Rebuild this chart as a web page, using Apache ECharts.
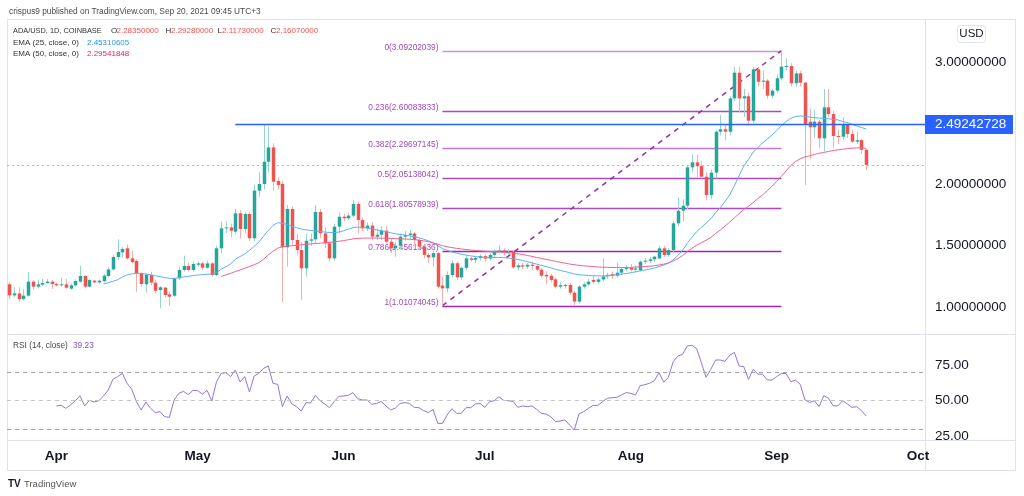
<!DOCTYPE html>
<html><head><meta charset="utf-8">
<script src="https://cdn.jsdelivr.net/npm/echarts@6/dist/echarts.min.js"></script>
<style>html,body{margin:0;padding:0;background:#fff}#c{width:1024px;height:496px}</style>
</head><body><div id="c"></div>
<script>
// ---- categories (daily, Mar 22 2021 .. Oct 2 2021) ----
const startDate = [2021, 2, 22];
const dayCount = 195;
const dates = [];
for (let i = 0; i < dayCount; i++) {
  dates.push(new Date(Date.UTC(startDate[0], startDate[1], startDate[2] + i)).toISOString().slice(0, 10));
}
const monthLabels = {'01':'Jan','02':'Feb','03':'Mar','04':'Apr','05':'May','06':'Jun','07':'Jul','08':'Aug','09':'Sep','10':'Oct','11':'Nov','12':'Dec'};

// ---- OHLC ----
const openVals = [1.185,1.095,1.111,1.065,1.093,1.207,1.166,1.183,1.196,1.207,
1.188,1.177,1.185,1.150,1.177,1.207,1.253,1.166,1.215,1.201,
1.210,1.253,1.307,1.408,1.446,1.479,1.397,1.376,1.275,1.186,
1.261,1.199,1.139,1.158,1.103,1.092,1.234,1.302,1.335,1.302,
1.345,1.356,1.321,1.356,1.261,1.479,1.642,1.650,1.615,1.765,
1.637,1.759,1.561,1.950,2.004,2.186,2.303,2.029,2.004,1.487,
1.800,1.547,1.465,1.316,1.541,1.552,1.776,1.601,1.520,1.397,
1.656,1.737,1.724,1.746,1.841,1.710,1.642,1.665,1.574,1.590,
1.623,1.533,1.479,1.500,1.574,1.588,1.600,1.547,1.493,1.425,
1.405,1.440,1.175,1.152,1.261,1.357,1.242,1.320,1.397,1.385,
1.400,1.415,1.395,1.425,1.452,1.462,1.445,1.452,1.324,1.340,
1.330,1.345,1.335,1.305,1.262,1.255,1.226,1.166,1.172,1.180,
1.117,1.044,1.166,1.185,1.221,1.205,1.225,1.250,1.268,1.255,
1.280,1.310,1.320,1.305,1.300,1.370,1.376,1.389,1.397,1.479,
1.425,1.465,1.683,1.786,1.827,2.140,2.181,2.150,2.064,1.914,
2.097,2.431,2.451,2.431,2.703,2.913,2.703,2.720,2.521,2.940,
2.839,2.848,2.725,2.766,2.867,2.962,2.967,2.826,2.907,2.831,
2.513,2.467,2.513,2.377,2.630,2.575,2.396,2.390,2.491,2.412,
2.350,2.362,2.2835];
const highVals = [1.202,1.161,1.161,1.147,1.283,1.220,1.226,1.231,1.229,1.220,
1.199,1.239,1.229,1.190,1.226,1.337,1.261,1.229,1.220,1.225,
1.267,1.324,1.424,1.552,1.492,1.511,1.460,1.389,1.283,1.275,
1.288,1.220,1.171,1.166,1.125,1.242,1.329,1.419,1.360,1.370,
1.372,1.370,1.380,1.365,1.500,1.700,1.700,1.680,1.800,1.790,
1.780,1.780,2.000,2.100,2.486,2.472,2.336,2.060,2.030,1.833,
1.820,1.600,1.530,1.600,1.600,1.833,1.800,1.650,1.540,1.680,
1.770,1.760,1.770,1.873,1.860,1.730,1.690,1.690,1.640,1.660,
1.660,1.560,1.530,1.600,1.620,1.630,1.610,1.560,1.510,1.440,
1.460,1.450,1.248,1.290,1.380,1.370,1.330,1.420,1.410,1.420,
1.430,1.430,1.440,1.470,1.506,1.480,1.470,1.460,1.360,1.360,
1.360,1.370,1.350,1.320,1.290,1.270,1.240,1.200,1.190,1.200,
1.130,1.180,1.200,1.230,1.260,1.240,1.397,1.280,1.290,1.360,
1.320,1.340,1.350,1.340,1.380,1.400,1.410,1.420,1.500,1.500,
1.480,1.700,1.895,1.880,2.160,2.246,2.240,2.190,2.100,2.120,
2.440,2.570,2.490,2.720,2.960,2.960,2.780,2.750,2.960,2.960,
2.930,2.860,2.780,2.900,3.092,3.030,2.990,2.930,2.930,2.840,
2.620,2.610,2.530,2.780,2.780,2.600,2.450,2.550,2.500,2.450,
2.430,2.370,2.2928];
const lowVals = [1.065,1.079,1.043,1.052,1.084,1.139,1.152,1.171,1.188,1.147,
1.166,1.166,1.147,1.140,1.166,1.199,1.152,1.161,1.193,1.188,
1.201,1.242,1.297,1.384,1.402,1.384,1.356,1.122,1.161,1.117,
1.179,1.111,0.989,1.079,1.008,1.084,1.221,1.289,1.290,1.290,
1.330,1.305,1.310,1.250,1.250,1.440,1.600,1.570,1.600,1.560,
1.600,1.540,1.540,1.900,1.960,2.100,1.950,1.960,1.044,1.330,
1.500,1.420,1.057,1.248,1.500,1.520,1.560,1.480,1.370,1.380,
1.600,1.700,1.710,1.730,1.601,1.620,1.620,1.545,1.545,1.547,
1.520,1.440,1.410,1.470,1.540,1.550,1.500,1.470,1.400,1.360,
1.330,1.150,1.0107,1.120,1.240,1.220,1.220,1.300,1.370,1.360,
1.380,1.370,1.380,1.400,1.440,1.420,1.430,1.310,1.300,1.310,
1.310,1.300,1.290,1.240,1.190,1.200,1.150,1.150,1.150,1.100,
1.017,1.030,1.150,1.170,1.190,1.190,1.210,1.230,1.230,1.240,
1.260,1.290,1.290,1.280,1.290,1.350,1.360,1.370,1.390,1.410,
1.410,1.450,1.660,1.700,1.800,2.100,2.060,2.050,1.870,1.880,
2.050,2.400,2.360,2.400,2.680,2.590,2.550,2.480,2.500,2.800,
2.780,2.700,2.700,2.750,2.850,2.930,2.800,2.800,2.800,1.996,
2.210,2.380,2.295,2.270,2.550,2.300,2.330,2.360,2.380,2.340,
2.330,2.250,2.1173];
const closeVals = [1.095,1.111,1.065,1.093,1.207,1.166,1.185,1.196,1.207,1.188,
1.177,1.185,1.158,1.177,1.212,1.253,1.166,1.220,1.201,1.215,
1.256,1.307,1.408,1.449,1.474,1.397,1.367,1.272,1.188,1.264,
1.199,1.133,1.161,1.098,1.084,1.234,1.302,1.335,1.302,1.351,
1.356,1.321,1.356,1.261,1.479,1.642,1.650,1.623,1.765,1.637,
1.759,1.561,1.950,2.004,2.186,2.303,2.023,1.996,1.487,1.800,
1.547,1.465,1.316,1.541,1.552,1.776,1.601,1.520,1.397,1.656,
1.737,1.724,1.746,1.841,1.710,1.642,1.665,1.574,1.590,1.623,
1.533,1.479,1.500,1.574,1.588,1.600,1.547,1.493,1.425,1.405,
1.440,1.166,1.152,1.261,1.357,1.242,1.320,1.397,1.385,1.400,
1.415,1.395,1.425,1.452,1.462,1.445,1.452,1.324,1.340,1.330,
1.345,1.335,1.305,1.255,1.250,1.221,1.166,1.178,1.180,1.117,
1.044,1.166,1.185,1.207,1.205,1.225,1.250,1.262,1.255,1.280,
1.310,1.318,1.305,1.315,1.370,1.378,1.389,1.411,1.479,1.425,
1.465,1.683,1.786,1.827,2.140,2.181,2.150,2.064,1.914,2.097,
2.431,2.451,2.431,2.703,2.913,2.703,2.720,2.521,2.940,2.839,
2.848,2.725,2.766,2.867,2.962,2.967,2.826,2.907,2.831,2.486,
2.467,2.513,2.377,2.630,2.575,2.396,2.390,2.491,2.412,2.350,
2.362,2.2835,2.1607];

// ---- EMA 25 (blue), EMA 50 (pink) ----
const ema25Vals = [null,null,null,null,null,null,null,null,null,null,
null,null,null,null,null,null,null,null,null,null,
1.188,1.198,1.210,1.222,1.245,1.262,1.270,1.275,1.274,1.269,
1.263,1.255,1.248,1.240,1.234,1.232,1.240,1.245,1.250,1.256,
1.261,1.264,1.267,1.269,1.280,1.308,1.329,1.351,1.390,1.412,
1.432,1.462,1.495,1.530,1.578,1.625,1.665,1.688,1.683,1.672,
1.660,1.648,1.636,1.630,1.625,1.621,1.617,1.612,1.608,1.608,
1.612,1.622,1.635,1.648,1.652,1.650,1.645,1.638,1.630,1.623,
1.615,1.606,1.598,1.592,1.587,1.581,1.574,1.565,1.554,1.540,
1.524,1.500,1.478,1.462,1.450,1.440,1.431,1.423,1.417,1.412,
1.408,1.405,1.403,1.404,1.405,1.403,1.400,1.394,1.387,1.380,
1.370,1.360,1.350,1.340,1.330,1.320,1.308,1.298,1.290,1.280,
1.270,1.264,1.260,1.257,1.255,1.254,1.254,1.256,1.259,1.263,
1.268,1.273,1.280,1.287,1.295,1.302,1.310,1.318,1.330,1.342,
1.358,1.385,1.420,1.462,1.520,1.570,1.615,1.650,1.685,1.720,
1.770,1.810,1.860,1.914,1.990,2.070,2.150,2.205,2.265,2.300,
2.340,2.370,2.404,2.440,2.480,2.515,2.540,2.555,2.560,2.556,
2.550,2.546,2.542,2.540,2.537,2.532,2.527,2.515,2.505,2.492,
2.478,2.465,2.4531];
const ema50Vals = [null,null,null,null,null,null,null,null,null,null,
null,null,null,null,null,null,null,null,null,null,
null,null,null,null,null,null,null,null,null,null,
null,null,null,null,null,null,null,null,null,null,
null,null,null,null,null,1.250,1.262,1.275,1.289,1.302,
1.316,1.330,1.345,1.362,1.390,1.425,1.455,1.480,1.492,1.497,
1.500,1.503,1.507,1.511,1.515,1.518,1.521,1.524,1.527,1.532,
1.537,1.542,1.549,1.556,1.560,1.562,1.563,1.563,1.563,1.562,
1.561,1.560,1.558,1.556,1.555,1.553,1.550,1.546,1.540,1.533,
1.524,1.512,1.500,1.492,1.485,1.479,1.474,1.469,1.465,1.461,
1.458,1.455,1.453,1.451,1.449,1.446,1.443,1.439,1.434,1.428,
1.421,1.413,1.405,1.397,1.389,1.381,1.373,1.366,1.358,1.351,
1.345,1.340,1.336,1.333,1.330,1.327,1.325,1.324,1.323,1.322,
1.322,1.323,1.324,1.326,1.328,1.330,1.333,1.337,1.343,1.350,
1.360,1.375,1.395,1.420,1.452,1.480,1.505,1.525,1.545,1.568,
1.600,1.628,1.660,1.692,1.727,1.762,1.795,1.822,1.852,1.885,
1.915,1.950,1.985,2.025,2.068,2.112,2.155,2.188,2.210,2.225,
2.235,2.245,2.255,2.262,2.270,2.277,2.283,2.288,2.292,2.296,
2.299,2.300,2.2954];

// ---- RSI (14) ----
const rsiVals = [null,null,null,null,null,null,null,null,null,null,
46.3,46.7,44.6,47.0,50.0,53.5,46.3,50.3,49.1,50.0,
53.3,57.5,65.1,67.0,69.3,62.3,58.0,49.3,43.4,49.1,
44.6,41.6,42.3,38.7,38.3,50.5,55.2,56.6,54.3,57.3,
57.1,54.7,57.3,49.8,63.4,69.3,69.8,67.0,71.6,63.2,
67.0,56.1,67.4,69.3,72.8,74.5,62.3,61.5,45.8,53.3,
47.7,45.8,42.7,48.6,48.4,53.8,50.0,47.7,45.1,49.3,
53.1,53.3,53.8,55.7,51.4,50.5,50.5,47.4,48.1,49.5,
46.3,43.4,44.8,48.1,48.6,48.1,45.3,45.1,43.0,41.6,
43.9,34.0,34.0,39.9,44.4,41.1,41.1,45.1,45.1,47.7,
48.1,45.3,49.3,50.0,52.8,50.2,50.0,49.5,45.3,46.3,
45.8,46.3,43.9,41.1,40.6,38.7,35.2,35.7,36.4,32.9,
29.3,40.6,42.3,44.6,46.7,46.7,49.3,51.7,52.1,52.4,
54.0,55.7,55.2,54.0,60.6,61.3,62.3,64.1,69.8,63.0,
66.5,77.5,81.5,82.7,88.6,89.1,86.7,76.8,66.5,72.1,
78.7,78.7,77.8,82.0,84.1,74.5,74.0,65.1,72.1,68.8,
68.6,64.6,64.6,67.0,69.3,69.1,63.4,64.6,61.5,50.5,
48.8,50.0,45.8,53.5,51.7,46.3,46.3,50.0,47.7,45.3,
45.8,43.0,39.23];
const rsiBands = [70, 50, 30];

// ---- drawings ----
const fibRatios = ['0','0.236','0.382','0.5','0.618','0.786','1'];
const fibPrices = [3.09202039,2.60083833,2.29697145,2.05138042,1.80578939,1.45613436,1.01074045];
const fibStartIdx = 92, fibEndIdx = 164;
const resistanceLevel = 2.49242728, resistanceStartIdx = 48;
const lastPrice = 2.1607;
const priceTicks = [1, 1.5, 2, 3];
const rsiTicks = [25, 50, 75];

const UP = '#26a69a', DOWN = '#ef5350';
const UPW = '#97d4cd', DOWNW = '#f6aeac';
const FONT = "'Liberation Sans', Arial, sans-serif";
const fibColors = ['#c896d8','#a94cc4','#c27ad6','#a94cc4','#a94cc4','#9c27b0','#9c27b0'];

const candleData = openVals.map((o, i) => [i, o, closeVals[i], lowVals[i], highVals[i]]);

const chart = echarts.init(document.getElementById('c'), null, {renderer: 'canvas'});

function txt(x, y, text, color, size, weight, align) {
  const a = align || 'left';
  return {type: 'text', silent: true, style: {
    x: x, y: y, text: text, fill: color, font: (weight ? weight + ' ' : '') + size + 'px ' + FONT,
    align: a, textAlign: a, verticalAlign: 'middle', textVerticalAlign: 'middle'}};
}

const option = {
  animation: false,
  backgroundColor: '#ffffff',
  grid: [
    {left: 7, top: 20, width: 918, height: 314, outerBoundsMode: 'none', containLabel: false},
    {left: 7, top: 334, width: 918, height: 106, outerBoundsMode: 'none', containLabel: false}
  ],
  xAxis: [
    {type: 'category', gridIndex: 0, data: dates, show: false, boundaryGap: true},
    {type: 'category', gridIndex: 1, data: dates, boundaryGap: true,
      axisLine: {show: false}, axisTick: {show: false}, splitLine: {show: false},
      axisLabel: {
        interval: function (i, v) { return v.slice(8) === '01'; },
        formatter: function (v) { return monthLabels[v.slice(5, 7)]; },
        color: '#131722', fontWeight: 'bold', fontSize: 13.5, fontFamily: FONT, margin: 9
      }}
  ],
  yAxis: [
    {type: 'value', gridIndex: 0, position: 'right', min: 0.7796, max: 3.3429, scale: true,
      axisLine: {show: false}, axisTick: {show: false}, splitLine: {show: false},
      axisLabel: {customValues: priceTicks, formatter: v => v.toFixed(8), color: '#131722',
        fontSize: 13.5, fontFamily: FONT, margin: 10}},
    {type: 'value', gridIndex: 1, position: 'right', min: 22.28, max: 97.05,
      axisLine: {show: false}, axisTick: {show: false}, splitLine: {show: false},
      axisLabel: {customValues: rsiTicks, formatter: v => v.toFixed(2), color: '#131722',
        fontSize: 13.5, fontFamily: FONT, margin: 10}}
  ],
  series: [
    { // fibonacci retracement
      type: 'custom', xAxisIndex: 0, yAxisIndex: 0, z: 1, silent: true, clip: false,
      data: fibPrices.map((p, k) => [fibStartIdx, p, fibEndIdx, k]),
      encode: {x: [0, 2], y: 1},
      renderItem: function (params, api) {
        const k = api.value(3);
        const a = api.coord([api.value(0), api.value(1)]);
        const b = api.coord([api.value(2), api.value(1)]);
        const y = Math.round(a[1]) + 0.5;
        return {type: 'group', children: [
          {type: 'line', shape: {x1: a[0], y1: y, x2: b[0], y2: y}, style: {stroke: fibColors[k], lineWidth: 1.5}},
          {type: 'text', style: {text: fibRatios[k] + '(' + fibPrices[k].toFixed(8) + ')', x: a[0] - 4, y: y,
            align: 'right', textAlign: 'right', verticalAlign: 'bottom', textVerticalAlign: 'bottom',
            fill: '#a048c0', font: '8.3px ' + FONT}}
        ]};
      }
    },
    { // dashed trend line of the fib tool
      type: 'custom', xAxisIndex: 0, yAxisIndex: 0, z: 1, silent: true, clip: false,
      data: [[fibStartIdx, fibPrices[6], fibEndIdx, fibPrices[0]]],
      encode: {x: [0, 2], y: [1, 3]},
      renderItem: function (params, api) {
        const a = api.coord([api.value(0), api.value(1)]);
        const b = api.coord([api.value(2), api.value(3)]);
        return {type: 'line', shape: {x1: a[0], y1: a[1], x2: b[0], y2: b[1]},
          style: {stroke: '#9c27b0', lineWidth: 1.5, lineDash: [5, 5]}};
      }
    },
    { // candles
      type: 'custom', name: 'ADA/USD', xAxisIndex: 0, yAxisIndex: 0, z: 2, silent: true,
      data: candleData,
      encode: {x: 0, y: [1, 2, 3, 4]},
      renderItem: function (params, api) {
        const i = api.value(0), o = api.value(1), c = api.value(2), l = api.value(3), h = api.value(4);
        const pO = api.coord([i, o]), pC = api.coord([i, c]), pL = api.coord([i, l]), pH = api.coord([i, h]);
        const cx = Math.round(pO[0]);
        const up = c >= o;
        const top = Math.min(pO[1], pC[1]), bot = Math.max(pO[1], pC[1]);
        return {type: 'group', children: [
          {type: 'line', shape: {x1: cx + 0.5, y1: pH[1], x2: cx + 0.5, y2: pL[1]},
            style: {stroke: up ? UPW : DOWNW, lineWidth: 1}},
          {type: 'rect', shape: {x: cx - 1.25, y: top, width: 3.5, height: Math.max(bot - top, 1)},
            style: {fill: up ? UP : DOWN}}
        ]};
      }
    },
    {
      type: 'line', name: 'EMA25', xAxisIndex: 0, yAxisIndex: 0, z: 3, data: ema25Vals,
      symbol: 'none', silent: true, lineStyle: {width: 1, color: '#5eb0f5'},
      markLine: {silent: true, symbol: 'none', label: {show: false},
        lineStyle: {type: [2, 3], color: '#ef5350', opacity: 0.55, width: 1},
        data: [{yAxis: lastPrice}]}
    },
    {
      type: 'line', name: 'EMA50', xAxisIndex: 0, yAxisIndex: 0, z: 3, data: ema50Vals,
      symbol: 'none', silent: true, lineStyle: {width: 1, color: '#f06292'}
    },
    { // horizontal level + price tag
      type: 'custom', xAxisIndex: 0, yAxisIndex: 0, z: 5, silent: true, clip: false,
      data: [[resistanceStartIdx, resistanceLevel]],
      encode: {x: 0, y: 1},
      renderItem: function (params, api) {
        const a = api.coord([api.value(0), api.value(1)]);
        const cs = params.coordSys;
        const xr = cs.x + cs.width;
        const y = Math.round(a[1]) + 0.5;
        return {type: 'group', children: [
          {type: 'line', shape: {x1: a[0], y1: y, x2: xr, y2: y}, style: {stroke: '#2962ff', lineWidth: 1.5}},
          {type: 'rect', shape: {x: xr, y: y - 9.5, width: 88, height: 19}, style: {fill: '#2962ff'}},
          {type: 'text', style: {text: resistanceLevel.toFixed(8), x: xr + 10, y: y,
            align: 'left', textAlign: 'left', verticalAlign: 'middle', textVerticalAlign: 'middle',
            fill: '#ffffff', font: '13.5px ' + FONT}}
        ]};
      }
    },
    {
      type: 'line', name: 'RSI', xAxisIndex: 1, yAxisIndex: 1, data: rsiVals, z: 3,
      symbol: 'none', silent: true, lineStyle: {width: 1, color: '#9575d9'},
      markLine: {silent: true, symbol: 'none', label: {show: false},
        data: rsiBands.map(v => ({yAxis: v, lineStyle: {type: [4, 4], width: 1, color: v === 50 ? '#c4c4c4' : '#a3a3a3'}}))}
    }
  ],
  graphic: [
    {type: 'rect', silent: true, z: 0, shape: {x: 7.5, y: 19.5, width: 1008, height: 451}, style: {fill: null, stroke: '#e0e3eb', lineWidth: 1}},
    {type: 'line', silent: true, shape: {x1: 7, y1: 334.5, x2: 1016, y2: 334.5}, style: {stroke: '#e0e3eb', lineWidth: 1}},
    {type: 'line', silent: true, shape: {x1: 7, y1: 440.5, x2: 1016, y2: 440.5}, style: {stroke: '#e0e3eb', lineWidth: 1}},
    {type: 'line', silent: true, shape: {x1: 925.5, y1: 19, x2: 925.5, y2: 471}, style: {stroke: '#e0e3eb', lineWidth: 1}},
    {type: 'rect', silent: true, shape: {x: 957.5, y: 25.5, width: 28, height: 17, r: 3}, style: {fill: '#fff', stroke: '#e0e3eb', lineWidth: 1}},
    txt(971.5, 34, 'USD', '#131722', 11.5, null, 'center'),
    txt(9, 11.7, 'crispus9 published on TradingView.com, Sep 20, 2021 09:45 UTC+3', '#4a4a4a', 8.3),
    txt(13, 30.7, 'ADA/USD, 1D, COINBASE', '#333333', 7.4),
    txt(111, 30.7, 'O', '#333333', 8), txt(116.5, 30.7, '2.28350000', DOWN, 8),
    txt(165.5, 30.7, 'H', '#333333', 8), txt(171, 30.7, '2.29280000', DOWN, 8),
    txt(217.5, 30.7, 'L', '#333333', 8), txt(222, 30.7, '2.11730000', DOWN, 8),
    txt(270.5, 30.7, 'C', '#333333', 8), txt(276, 30.7, '2.16070000', DOWN, 8),
    txt(13, 42.3, 'EMA (25, close, 0)', '#333333', 8), txt(87, 42.3, '2.45310605', '#2196f3', 8),
    txt(13, 53.3, 'EMA (50, close, 0)', '#333333', 8), txt(87, 53.3, '2.29541848', '#e91e63', 8),
    txt(13, 346, 'RSI (14, close)', '#4a4a4a', 8.3), txt(73, 346, '39.23', '#7e57c2', 8.3),
    txt(8, 484, 'TV', '#131722', 10, 'bold'),
    txt(24, 484, 'TradingView', '#555555', 9.5)
  ]
};
chart.setOption(option);
</script>
</body></html>
